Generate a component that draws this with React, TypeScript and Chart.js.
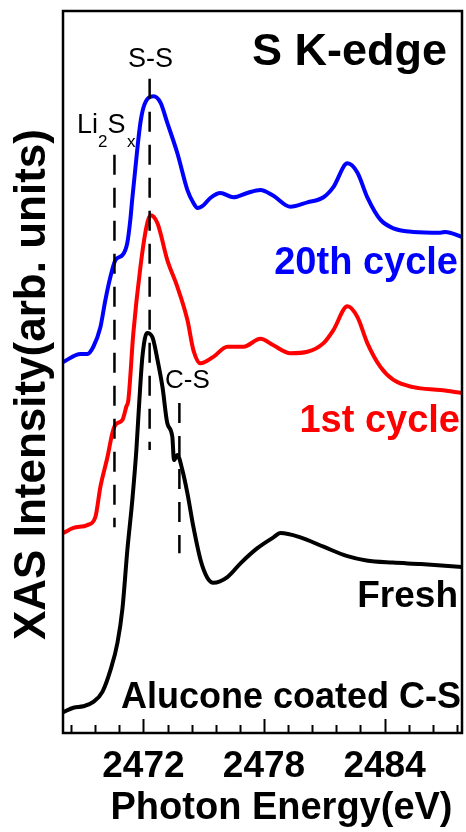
import React, { useEffect, useRef } from "react";
import { Chart, registerables } from "chart.js";

Chart.register(...registerables);

// Photon energy (eV) and normalised intensity (arb. units, stacked offsets) per spectrum
const cycle20Energy = [
  2468.02, 2468.87, 2469.21, 2469.51, 2469.86, 2470.11, 2470.36, 2470.61, 2470.96, 2471.2,
  2471.35, 2471.44, 2471.69, 2471.85, 2472.01, 2472.26, 2472.51, 2472.85, 2473.19, 2473.69,
  2474.19, 2474.49, 2474.69, 2474.99, 2475.33, 2475.83, 2476.48, 2477.17, 2477.82, 2478.47,
  2479.31, 2480.16, 2480.96, 2481.45, 2482.15, 2482.65, 2483.14, 2483.79, 2484.44, 2485.43,
  2486.78, 2487.02, 2487.85,
];
const cycle20Intensity = [
  5.14, 5.25, 5.25, 5.35, 5.62, 6.0, 6.32, 6.55, 6.62, 6.79,
  7.11, 7.38, 8.07, 8.45, 8.67, 8.8, 8.82, 8.73, 8.45, 8.03,
  7.52, 7.34, 7.27, 7.31, 7.41, 7.48, 7.42, 7.48, 7.52, 7.44,
  7.29, 7.35, 7.42, 7.56, 7.89, 7.76, 7.42, 7.11, 6.99, 6.94,
  6.93, 6.94, 6.87,
];

const cycle1Energy = [
  2468.02, 2468.52, 2469.21, 2469.61, 2469.86, 2470.21, 2470.46, 2470.61, 2470.96, 2471.15,
  2471.25, 2471.5, 2471.85, 2472.15, 2472.35, 2472.7, 2473.19, 2473.69, 2474.19, 2474.49,
  2474.84, 2475.48, 2476.18, 2476.98, 2477.82, 2478.47, 2479.31, 2480.16, 2480.96, 2481.45,
  2482.15, 2482.65, 2483.14, 2483.79, 2484.44, 2485.43, 2486.78, 2487.85,
];
const cycle1Intensity = [
  2.77, 2.84, 2.88, 2.99, 3.41, 3.82, 4.16, 4.27, 4.34, 4.52,
  4.61, 5.54, 6.45, 7.01, 7.17, 7.06, 6.55, 6.18, 5.72, 5.3,
  5.12, 5.21, 5.35, 5.35, 5.46, 5.37, 5.26, 5.28, 5.4, 5.58,
  5.91, 5.76, 5.4, 5.07, 4.89, 4.79, 4.75, 4.71,
];

const freshEnergy = [
  2468.02, 2468.52, 2469.01, 2469.51, 2469.96, 2470.36, 2470.71, 2470.96, 2471.2, 2471.45,
  2471.65, 2471.8, 2471.95, 2472.18, 2472.45, 2472.7, 2472.95, 2473.19, 2473.44, 2473.52,
  2473.69, 2473.94, 2474.19, 2474.49, 2474.84, 2475.18, 2475.48, 2476.18, 2476.83, 2477.67,
  2478.47, 2478.82, 2479.81, 2480.96, 2482.15, 2483.1, 2484.4, 2485.8, 2487.85,
];
const freshIntensity = [
  0.29, 0.35, 0.37, 0.43, 0.57, 0.87, 1.25, 1.73, 2.53, 3.23,
  3.92, 4.61, 5.21, 5.54, 5.48, 5.17, 4.79, 4.29, 4.1, 3.78,
  3.85, 3.64, 3.32, 2.85, 2.4, 2.15, 2.08, 2.16, 2.35, 2.56,
  2.71, 2.77, 2.71, 2.58, 2.45, 2.39, 2.36, 2.34, 2.3,
];

// Reference lines: energy and vertical extent (top, bottom) in intensity units
const li2sxEnergy = 2470.56;
const li2sxSpan = [8.01, 2.85];
const ssEnergy = 2472.31;
const ssSpan = [9.06, 3.92];
const csEnergy = 2473.79;
const csSpan = [4.57, 2.49];

// Axis
const energyMin = 2468.0;
const energyMax = 2487.85;
const intensityMin = 0;
const intensityMax = 10;
const majorTicks = [2472, 2478, 2484];
const minorTicks = [
  2468.4, 2469.6, 2470.8, 2473.2, 2474.4, 2475.6, 2476.8, 2479.2, 2480.4, 2481.6,
  2482.8, 2485.2, 2486.4, 2487.6,
];

const FONT = '"Liberation Sans", Arial, Helvetica, sans-serif';

const zip = (xs: number[], ys: number[]) => xs.map((x, i) => ({ x, y: ys[i] }));

const annotations = {
  id: "annotations",
  afterDraw(chart: any) {
    const { ctx, chartArea } = chart;
    const { left, right, top, bottom } = chartArea;
    const xs = chart.scales.x;
    ctx.save();

    // frame
    ctx.strokeStyle = "#000";
    ctx.lineWidth = 2.5;
    ctx.strokeRect(left, top, right - left, bottom - top);

    // inward tick marks on the energy axis
    ctx.lineWidth = 2;
    const tick = (v: number, len: number) => {
      const px = Math.round(xs.getPixelForValue(v)) + 0.5;
      ctx.beginPath();
      ctx.moveTo(px, bottom);
      ctx.lineTo(px, bottom - len);
      ctx.stroke();
    };
    majorTicks.forEach((v) => tick(v, 14));
    minorTicks.forEach((v) => tick(v, 8));

    const text = (
      s: string,
      x: number,
      y: number,
      font: string,
      color = "#000",
      align: CanvasTextAlign = "left"
    ) => {
      ctx.font = font;
      ctx.fillStyle = color;
      ctx.textAlign = align;
      ctx.textBaseline = "alphabetic";
      ctx.fillText(s, x, y);
    };

    // panel title
    text("S K-edge", 252, 65, `bold 45px ${FONT}`);

    // feature labels
    text("S-S", 150.5, 67, `27px ${FONT}`, "#000", "center");
    text("C-S", 165, 388, `26px ${FONT}`);
    text("Li", 77, 133, `27px ${FONT}`);
    text("2", 98, 147, `17px ${FONT}`);
    text("S", 107.5, 133, `27px ${FONT}`);
    text("x", 127, 147, `17px ${FONT}`);

    // spectrum labels
    text("20th cycle", 458, 274, `bold 38px ${FONT}`, "#0000ff", "right");
    text("1st cycle", 460, 432, `bold 38px ${FONT}`, "#ff0000", "right");
    text("Fresh", 458, 607, `bold 37px ${FONT}`, "#000", "right");
    text("Alucone coated C-S", 461, 708, `bold 36px ${FONT}`, "#000", "right");

    // axis titles
    text("Photon Energy(eV)", 281.5, 819, `bold 38px ${FONT}`, "#000", "center");
    ctx.translate(45, 640);
    ctx.rotate(-Math.PI / 2);
    text("XAS Intensity(arb. units)", 0, 0, `bold 44px ${FONT}`);

    ctx.restore();
  },
};

export default function App() {
  const canvasRef = useRef<HTMLCanvasElement | null>(null);

  useEffect(() => {
    document.body.style.margin = "0";
    const canvas = canvasRef.current;
    if (!canvas) return;

    const spectrum = (label: string, xs: number[], ys: number[], color: string) => ({
      label,
      data: zip(xs, ys),
      borderColor: color,
      borderWidth: 4,
      pointRadius: 0,
      fill: false,
      cubicInterpolationMode: "monotone" as const,
      order: 2,
    });
    const marker = (label: string, e: number, span: number[]) => ({
      label,
      data: [
        { x: e, y: span[0] },
        { x: e, y: span[1] },
      ],
      borderColor: "#000",
      borderWidth: 2.5,
      borderDash: [20, 13],
      pointRadius: 0,
      fill: false,
      order: 1,
    });

    const chart = new Chart(canvas, {
      type: "line",
      data: {
        datasets: [
          marker("Li2Sx", li2sxEnergy, li2sxSpan),
          marker("S-S", ssEnergy, ssSpan),
          marker("C-S", csEnergy, csSpan),
          spectrum("Alucone coated C-S", freshEnergy, freshIntensity, "#000000"),
          spectrum("1st cycle", cycle1Energy, cycle1Intensity, "#ff0000"),
          spectrum("20th cycle", cycle20Energy, cycle20Intensity, "#0000ff"),
        ],
      },
      options: {
        animation: false,
        responsive: true,
        maintainAspectRatio: false,
        layout: { padding: { left: 63, top: 11, right: 4, bottom: 0 } },
        plugins: {
          legend: { display: false },
          tooltip: { enabled: false },
        },
        scales: {
          x: {
            type: "linear",
            position: "bottom",
            min: energyMin,
            max: energyMax,
            grid: { display: false, drawTicks: false },
            border: { display: false },
            afterBuildTicks: (scale: any) => {
              scale.ticks = majorTicks.map((value) => ({ value }));
            },
            afterFit: (scale: any) => {
              scale.height = 99;
            },
            ticks: {
              autoSkip: false,
              maxRotation: 0,
              padding: 12,
              color: "#000",
              font: { family: FONT, size: 37, weight: "bold" },
              callback: (v: any) => String(v),
            },
          },
          y: {
            type: "linear",
            display: false,
            min: intensityMin,
            max: intensityMax,
          },
        },
      },
      plugins: [annotations],
    });

    return () => chart.destroy();
  }, []);

  return (
    <div style={{ position: "fixed", left: 0, top: 0, width: 466, height: 832, background: "#fff" }}>
      <canvas ref={canvasRef} />
    </div>
  );
}
